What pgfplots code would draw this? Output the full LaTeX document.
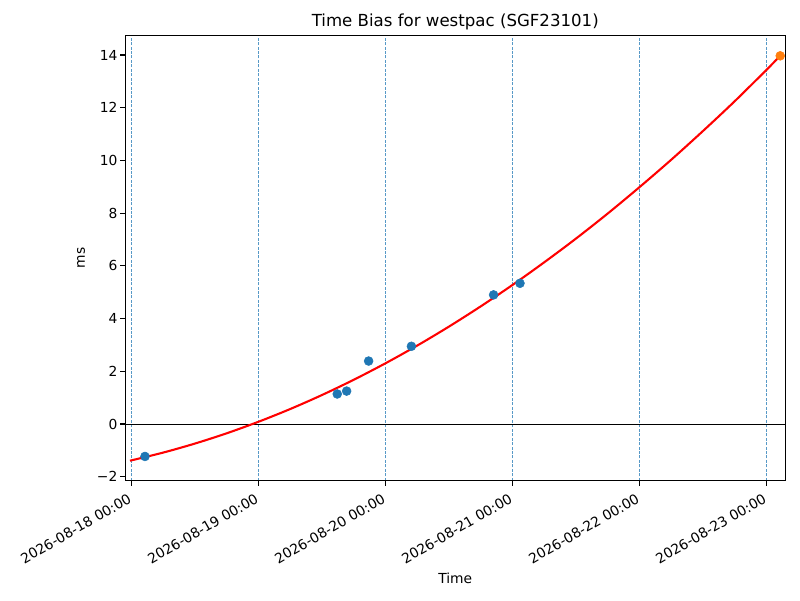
\documentclass[border=0pt]{standalone}
\usepackage{pgfplots}
\pgfplotsset{compat=1.18}
\usepackage{fontspec}
\setmainfont{DejaVu Sans}
\definecolor{mplblue}{HTML}{1F77B4}
\definecolor{mplorange}{HTML}{FF7F0E}
\begin{document}
\begin{tikzpicture}[x=1bp,y=1bp]
\path (0,0) rectangle (576,432);
\begin{axis}[
  at={(90.2bp,85.9bp)}, anchor=south west,
  scale only axis, width=475.2bp, height=320.7bp,
  xmin=-0.047, xmax=5.15, ymin=-2.15, ymax=14.75,
  xtick={0,1,2,3,4,5},
  xticklabels={2026-08-18 00:00,2026-08-19 00:00,2026-08-20 00:00,2026-08-21 00:00,2026-08-22 00:00,2026-08-23 00:00},
  ytick={-2,0,2,4,6,8,10,12,14},
  yticklabels={−2,0,2,4,6,8,10,12,14},
  /pgf/number format/assume math mode=true,
  tick label style={font=\fontsize{10}{12}\selectfont},
  x tick label style={rotate=30, anchor=north east, inner sep=1pt, yshift=-2bp, xshift=-4bp},
  y tick label style={inner sep=2pt},
  tick align=outside, tick pos=left,
  major tick length=3.5bp,
  every tick/.style={black, line width=0.8bp},
  axis line style={line width=0.8bp},
  xmajorgrids,
  grid style={mplblue!75, line width=0.5bp, dash pattern=on 2.2bp off 1bp},
  title={Time Bias for westpac (SGF23101)},
  title style={font=\fontsize{12}{14}\selectfont, yshift=-6bp},
  xlabel={Time}, ylabel={ms},
  label style={font=\fontsize{10}{12}\selectfont},
  xlabel style={yshift=-1bp},
  ylabel style={yshift=3bp},
  clip=true,
]
\addplot[black, line width=0.6bp, forget plot] coordinates {(-0.047,0) (5.15,0)};
\addplot[red, line width=1.5bp, smooth] coordinates {
(-0.01,-1.391) (0.25,-1.085) (0.5,-0.743) (0.75,-0.354) (1.0,0.083)
(1.25,0.566) (1.5,1.097) (1.75,1.675) (2.0,2.30) (2.25,2.972)
(2.5,3.692) (2.75,4.459) (3.0,5.27) (3.25,6.13) (3.5,7.03)
(3.75,7.98) (4.0,8.98) (4.25,10.02) (4.5,11.11) (4.75,12.24)
(5.0,13.43) (5.11,13.97)};
\addplot[only marks, mark=*, mark size=3.2bp, mplblue, mark options={draw=mplblue, fill=mplblue}] coordinates {
(0.108,-1.23) (1.622,1.14) (1.696,1.25) (1.869,2.39) (2.206,2.95) (2.853,4.90) (3.061,5.34)};
\addplot[only marks, mark=*, mark size=3.2bp, mplorange, mark options={draw=mplorange, fill=mplorange}] coordinates {(5.110,13.97)};
\end{axis}
\end{tikzpicture}
\end{document}
